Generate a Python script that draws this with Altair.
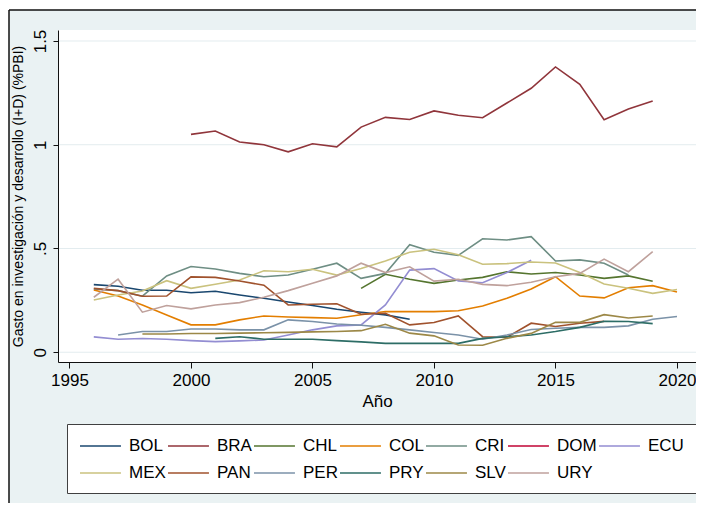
import altair as alt
import pandas as pd

# ---- data ----
countries = ["BOL", "BRA", "CHL", "COL", "CRI", "DOM", "ECU",
             "MEX", "PAN", "PER", "PRY", "SLV", "URY"]
colors = ["#1a476f", "#90353b", "#55752f", "#e37e00", "#6e8e84", "#c10534", "#938dd2",
          "#cac27e", "#a0522d", "#7b92a8", "#2d6d66", "#9c8847", "#bfa19c"]

BOL_start = 1996
BOL = [0.326, 0.318, 0.299, 0.299, 0.287, 0.294, 0.276, 0.260, 0.242, 0.225, 0.207, 0.193, 0.180, 0.159]
BRA_start = 2000
BRA = [1.050, 1.066, 1.013, 1.000, 0.966, 1.005, 0.990, 1.085, 1.132, 1.122, 1.163, 1.142, 1.130,
       1.201, 1.272, 1.375, 1.291, 1.121, 1.172, 1.211]
CHL_start = 2007
CHL = [0.308, 0.376, 0.352, 0.332, 0.348, 0.361, 0.388, 0.377, 0.384, 0.372, 0.356, 0.368, 0.342]
COL_start = 1996
COL = [0.300, 0.271, 0.228, 0.180, 0.132, 0.132, 0.156, 0.175, 0.170, 0.167, 0.164, 0.181, 0.196,
       0.196, 0.196, 0.200, 0.223, 0.260, 0.305, 0.364, 0.271, 0.262, 0.311, 0.321, 0.290]
CRI_start = 1996
CRI = [0.305, 0.297, 0.270, 0.368, 0.413, 0.401, 0.380, 0.364, 0.372, 0.400, 0.429, 0.356, 0.380,
       0.518, 0.482, 0.467, 0.547, 0.541, 0.557, 0.440, 0.445, 0.429, 0.372]
DOM_start = 2000
DOM = []
ECU_start = 1996
ECU = [0.074, 0.063, 0.066, 0.063, 0.056, 0.051, 0.055, 0.059, 0.083, 0.108, 0.127, 0.132, 0.228,
       0.396, 0.403, 0.343, 0.335, 0.384, 0.443]
MEX_start = 1996
MEX = [0.252, 0.276, 0.295, 0.345, 0.308, 0.328, 0.348, 0.393, 0.388, 0.400, 0.372, 0.404, 0.440,
       0.482, 0.496, 0.470, 0.424, 0.427, 0.435, 0.430, 0.384, 0.329, 0.308, 0.284, 0.302]
PAN_start = 1996
PAN = [0.308, 0.297, 0.270, 0.271, 0.363, 0.361, 0.343, 0.323, 0.228, 0.231, 0.234, 0.183, 0.188,
       0.132, 0.143, 0.175, 0.075, 0.072, 0.140, 0.124, 0.140, 0.149]
PER_start = 1997
PER = [0.083, 0.100, 0.100, 0.112, 0.112, 0.108, 0.108, 0.156, 0.148, 0.136, 0.130, 0.120, 0.108,
       0.095, 0.083, 0.063, 0.083, 0.110, 0.116, 0.120, 0.120, 0.127, 0.159, 0.172]
PRY_start = 2001
PRY = [0.067, 0.075, 0.063, 0.063, 0.063, 0.056, 0.050, 0.043, 0.043, 0.043, 0.043, 0.067, 0.075,
       0.083, 0.100, 0.120, 0.149, 0.148, 0.138]
SLV_start = 1998
SLV = [0.088, 0.088, 0.090, 0.090, 0.092, 0.094, 0.096, 0.098, 0.100, 0.104, 0.135, 0.092, 0.079,
       0.035, 0.034, 0.067, 0.091, 0.144, 0.144, 0.181, 0.165, 0.175]
URY_start = 1996
URY = [0.265, 0.352, 0.193, 0.225, 0.209, 0.228, 0.239, 0.265, 0.297, 0.332, 0.368, 0.429, 0.384,
       0.412, 0.343, 0.352, 0.327, 0.321, 0.337, 0.364, 0.380, 0.449, 0.388, 0.485]

x_ticks = [1995, 2000, 2005, 2010, 2015, 2020]
y_ticks = [0, 0.5, 1, 1.5]

series = {
    "BOL": (BOL_start, BOL), "BRA": (BRA_start, BRA), "CHL": (CHL_start, CHL),
    "COL": (COL_start, COL), "CRI": (CRI_start, CRI), "DOM": (DOM_start, DOM),
    "ECU": (ECU_start, ECU), "MEX": (MEX_start, MEX), "PAN": (PAN_start, PAN),
    "PER": (PER_start, PER), "PRY": (PRY_start, PRY), "SLV": (SLV_start, SLV),
    "URY": (URY_start, URY),
}
rows = []
for c in countries:
    start, vals = series[c]
    for i, v in enumerate(vals):
        rows.append({"pais": c, "anio": start + i, "valor": v})
df = pd.DataFrame(rows)

W, H = 638, 332
PAD_B = 141
FONT = "Liberation Sans"
BG = "#EAF2F3"
INK = "#111111"

xs = alt.Scale(domain=[1994.527, 2020.782], nice=False, zero=False)
ys = alt.Scale(domain=[-0.047, 1.553], nice=False, zero=False)

y_axis = alt.Axis(values=y_ticks, title="Gasto en investigación y desarrollo (I+D) (%PBI)",
                  labelExpr="datum.value == 0.5 ? '.5' : (datum.value == 1.5 ? '1.5' : (datum.value == 1 ? '1' : '0'))",
                  grid=False, labelAngle=270, labelAlign="center", labelBaseline="bottom",
                  labelFontSize=17, titleFontSize=14, labelFont=FONT, titleFont=FONT,
                  titleFontWeight="normal", labelColor="black", titleColor="black",
                  tickSize=5, tickColor=INK, domainColor=INK,
                  labelPadding=4, titlePadding=6, labelFlush=False, zindex=1)
x_axis = alt.Axis(values=x_ticks, format="d", title="Año", grid=False,
                  labelFontSize=17, titleFontSize=17, labelFont=FONT, titleFont=FONT,
                  titleFontWeight="normal", labelColor="black", titleColor="black",
                  tickSize=6, tickColor=INK, domainColor=INK,
                  labelPadding=4, titlePadding=5, labelFlush=False, zindex=1)

one = pd.DataFrame({"k": [0]})

# light graph region with a dark frame line on its top and left edges
region = alt.Chart(one).mark_rect(fill=BG).encode(
    x=alt.value(-49), x2=alt.value(W), y=alt.value(-20), y2=alt.value(H + PAD_B)
)
frame_top = alt.Chart(one).mark_rule(color=INK, strokeWidth=1.5).encode(
    x=alt.value(-49), x2=alt.value(W), y=alt.value(-20)
)
frame_left = alt.Chart(one).mark_rule(color=INK, strokeWidth=1.5).encode(
    x=alt.value(-49), y=alt.value(-20), y2=alt.value(H + PAD_B)
)
plotbg = alt.Chart(one).mark_rect(fill="white").encode(
    x=alt.value(0), x2=alt.value(W), y=alt.value(0), y2=alt.value(H)
)
grid = alt.Chart(pd.DataFrame({"valor": y_ticks})).mark_rule(color="#E3ECEF", strokeWidth=1).encode(
    y=alt.Y("valor:Q", scale=ys, axis=y_axis), x=alt.value(0), x2=alt.value(W)
)

lines = alt.Chart(df).mark_line(strokeWidth=1.6).encode(
    x=alt.X("anio:Q", scale=xs, axis=x_axis),
    y=alt.Y("valor:Q", scale=ys, axis=y_axis),
    color=alt.Color("pais:N", scale=alt.Scale(domain=countries, range=colors),
                    legend=alt.Legend(orient="none", legendX=9, legendY=394, direction="horizontal",
                                      columns=7, symbolType="M-1,0L3.55,0", symbolSize=324,
                                      symbolStrokeWidth=1.6, labelFontSize=17, labelFont=FONT,
                                      labelColor="black", labelOffset=30, columnPadding=-2,
                                      rowPadding=9, padding=12, gridAlign="each",
                                      fillColor="white", strokeColor="#404040",
                                      cornerRadius=0, title=None)),
)

chart = alt.layer(region, frame_top, frame_left, plotbg, grid, lines).properties(
    width=W, height=H,
    autosize=alt.AutoSizeParams(type="none"),
    padding={"left": 50, "top": 22, "right": 0, "bottom": PAD_B},
).configure_view(stroke=None)

chart.save("out.html", embed_options={"renderer": "svg", "actions": False})
